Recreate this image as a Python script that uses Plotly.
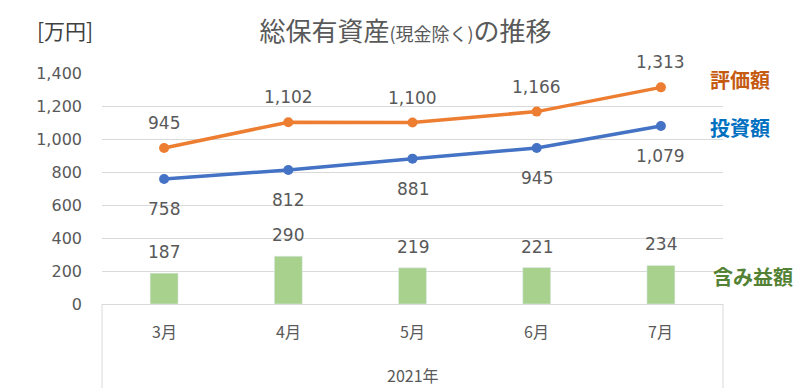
import plotly.graph_objects as go

months = ["3月", "4月", "5月", "6月", "7月"]
year_label = "2021年"
hyouka = [945, 1102, 1100, 1166, 1313]
toushi = [758, 812, 881, 945, 1079]
fukumi = [187, 290, 219, 221, 234]
y_ticks = [0, 200, 400, 600, 800, 1000, 1200, 1400]

CJK = "Noto Sans CJK JP"
NUM = "DejaVu Sans"
GRAY = "#595959"
ORANGE = "#ED7D31"
BLUE = "#4472C4"
GREEN = "#A9D18E"

fig = go.Figure()
fig.add_trace(go.Bar(x=months, y=fukumi, marker_color=GREEN, width=0.225, name="含み益額"))
fig.add_trace(go.Scatter(x=months, y=toushi, mode="lines+markers", line=dict(color=BLUE, width=3.5),
                         marker=dict(size=10, color=BLUE), name="投資額"))
fig.add_trace(go.Scatter(x=months, y=hyouka, mode="lines+markers", line=dict(color=ORANGE, width=3.5),
                         marker=dict(size=10, color=ORANGE), name="評価額"))

ann = []
for m, v in zip(months, hyouka):
    ann.append(dict(x=m, y=v, text=f"{v:,}", showarrow=False, yshift=25,
                    font=dict(size=17, color=GRAY, family=NUM)))
for m, v in zip(months, toushi):
    ann.append(dict(x=m, y=v, text=f"{v:,}", showarrow=False, yshift=-30,
                    font=dict(size=17, color=GRAY, family=NUM)))
for m, v in zip(months, fukumi):
    ann.append(dict(x=m, y=v, text=f"{v:,}", showarrow=False, yshift=21,
                    font=dict(size=17, color=GRAY, family=NUM)))
for m in months:
    ann.append(dict(x=m, y=-0.117, yref="paper", text=m, showarrow=False, yanchor="middle",
                    font=dict(size=16, color=GRAY, family=CJK)))
ann.append(dict(x=0.5, y=-0.307, xref="paper", yref="paper", text=year_label, showarrow=False,
                yanchor="middle", font=dict(size=16, color=GRAY, family=CJK)))
ann.append(dict(x=-0.06, y=1.186, xref="paper", yref="paper", text="[万円]", showarrow=False,
                xanchor="center", yanchor="middle", font=dict(size=21, color="#404040", family=CJK)))
ann.append(dict(x=1.027, y=0.970, xref="paper", yref="paper", text="<b>評価額</b>", showarrow=False,
                xanchor="center", yanchor="middle", font=dict(size=20, color="#C55A11", family=CJK)))
ann.append(dict(x=1.027, y=0.762, xref="paper", yref="paper", text="<b>投資額</b>", showarrow=False,
                xanchor="center", yanchor="middle", font=dict(size=20, color="#0070C0", family=CJK)))
ann.append(dict(x=1.048, y=0.121, xref="paper", yref="paper", text="<b>含み益額</b>", showarrow=False,
                xanchor="center", yanchor="middle", font=dict(size=20, color="#548235", family=CJK)))

shapes = [
    dict(type="line", xref="paper", yref="paper", x0=0, x1=0, y0=0, y1=-0.4,
         line=dict(color="#D9D9D9", width=1)),
    dict(type="line", xref="paper", yref="paper", x0=1, x1=1, y0=0, y1=-0.4,
         line=dict(color="#D9D9D9", width=1)),
]

fig.update_layout(
    width=811, height=388,
    margin=dict(l=102, r=88, t=73, b=84),
    paper_bgcolor="white", plot_bgcolor="white",
    showlegend=False,
    title=dict(text='総保有資産<span style="font-size:18px">(現金除く)</span>の推移',
               x=0.5, xanchor="center", y=0.918, yanchor="middle",
               font=dict(size=26, color=GRAY, family=CJK)),
    xaxis=dict(showticklabels=False, showline=True, linecolor="#D9D9D9", ticks="",
               showgrid=False, zeroline=False),
    yaxis=dict(range=[0, 1400], tickvals=y_ticks, tickformat=",", showgrid=True,
               gridcolor="#D9D9D9", zeroline=False, ticks="", ticklabelstandoff=19,
               tickfont=dict(size=16, color=GRAY, family=NUM)),
    annotations=ann, shapes=shapes,
    font=dict(family=CJK, color=GRAY),
)
fig.write_html("out.html", config={"displayModeBar": False},
               post_script="document.body.style.margin='0';")
